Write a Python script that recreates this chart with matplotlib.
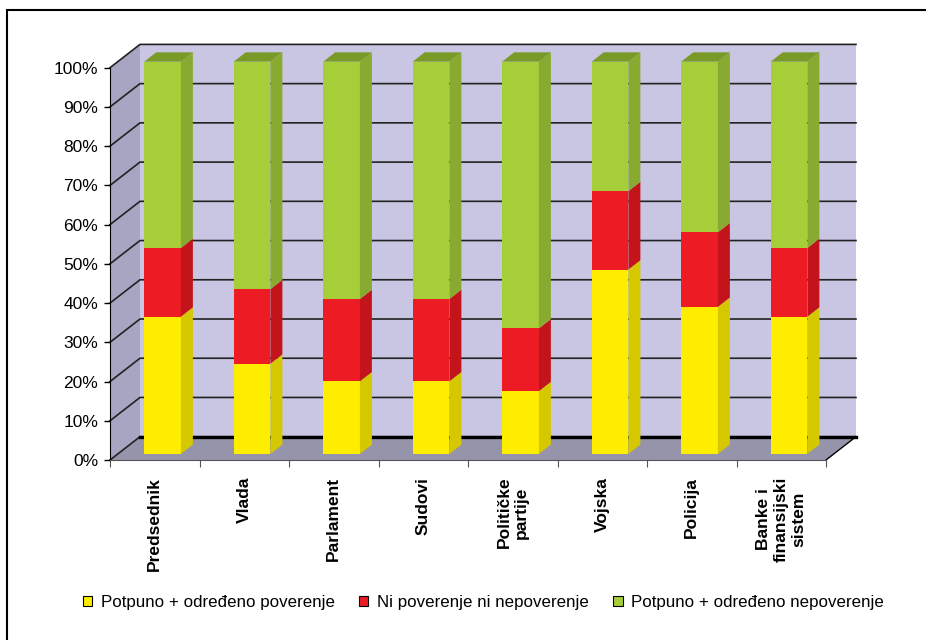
import numpy as np
import matplotlib
matplotlib.use('Agg')
import matplotlib.pyplot as plt
from matplotlib.patches import Polygon, Rectangle, Patch

plt.rcParams['font.family'] = ['Liberation Sans', 'DejaVu Sans']

categories = ['Predsednik', 'Vlada', 'Parlament', 'Sudovi', 'Političke\npartije',
              'Vojska', 'Policija', 'Banke i\nfinansijski\nsistem']
poverenje = [35, 23, 18.5, 18.5, 16, 47, 37.5, 35]
neutralno = [17.5, 19, 21, 21, 16, 20, 19, 17.5]
nepoverenje = [47.5, 58, 60.5, 60.5, 68, 33, 43.5, 47.5]
series_names = ['Potpuno + određeno poverenje', 'Ni poverenje ni nepoverenje',
                'Potpuno + određeno nepoverenje']

front_cols = ['#FFED00', '#ED1C24', '#A6CE39']
side_cols = ['#D6C800', '#C3141C', '#88AA30']
top_col = '#7A9A28'

# oblique depth of the chart box (x in category units, y in percent)
DX, DY = 0.335, 5.94
Z0, Z1 = 0.26, 0.66   # front and back face of the bars, as depth fraction
W = 0.41

n = len(categories)

fig = plt.figure(figsize=(9.26, 6.4), dpi=100)
ax = fig.add_axes([110 / 926, 180 / 640, 716 / 926, 392.3 / 640])
ax.set_xlim(0, n)
ax.set_ylim(0, 100)
ax.patch.set_visible(False)

# back wall, side wall, floor
ax.add_patch(Polygon([(DX, DY), (n + DX, DY), (n + DX, 100 + DY), (DX, 100 + DY)],
                     fc='#C8C6E2', ec='none', zorder=0, clip_on=False))
ax.add_patch(Polygon([(0, 0), (DX, DY), (DX, 100 + DY), (0, 100)],
                     fc='#A7A5C1', ec='none', zorder=0, clip_on=False))
ax.add_patch(Polygon([(0, 0), (n, 0), (n + DX, DY), (DX, DY)],
                     fc='#9694AA', ec='none', zorder=0.5, clip_on=False))

for v in range(0, 101, 10):
    ax.plot([0, DX, n + DX], [v, v + DY, v + DY], color='#222222', lw=1.2,
            zorder=1, clip_on=False)
ax.plot([DX, n + DX], [DY, DY], color='black', lw=2.4, zorder=1.2, clip_on=False)
ax.plot([n, n + DX], [0, DY], color='black', lw=1, zorder=1.2, clip_on=False)

# stacked 3d-ish columns
x = np.arange(n) + 0.5 + Z0 * DX
d = Z1 - Z0
bottom = np.zeros(n)
for vals, fc, sc, name in zip([poverenje, neutralno, nepoverenje], front_cols, side_cols, series_names):
    vals = np.array(vals, dtype=float)
    ax.bar(x, vals, width=W, bottom=bottom + Z0 * DY, color=fc, zorder=3,
           clip_on=False, label=name)
    for xi, b, h in zip(x, bottom, vals):
        xr = xi + W / 2
        y0 = b + Z0 * DY
        y1 = y0 + h
        ax.add_patch(Polygon([(xr, y0), (xr + d * DX, y0 + d * DY),
                              (xr + d * DX, y1 + d * DY), (xr, y1)],
                             fc=sc, ec='none', zorder=3, clip_on=False))
    bottom += vals

for xi, t in zip(x, bottom):
    y1 = t + Z0 * DY
    xl = xi - W / 2
    ax.add_patch(Polygon([(xl, y1), (xl + W, y1), (xl + W + d * DX, y1 + d * DY),
                          (xl + d * DX, y1 + d * DY)],
                         fc=top_col, ec='none', zorder=3, clip_on=False))

# axes
ax.set_yticks(range(0, 101, 10))
ax.set_yticklabels([f'{v}%' for v in range(0, 101, 10)])
ax.tick_params(axis='y', length=4.5, width=1, pad=4, labelsize=12.5)
ax.set_xticks(range(n + 1))
ax.set_xticklabels([])
ax.set_xticks(np.arange(n) + 0.5, minor=True)
ax.set_xticklabels(categories, minor=True, rotation=90, fontweight='bold',
                   fontsize=12.5, multialignment='center')
ax.tick_params(axis='x', which='major', length=5, color='#555555')
ax.tick_params(axis='x', which='minor', length=0, pad=12)
ax.spines['top'].set_visible(False)
ax.spines['right'].set_visible(False)
ax.spines['bottom'].set_color('#555555')
ax.spines['left'].set_color('black')

handles = [Patch(fc=c, ec='black', lw=0.8) for c in front_cols]
fig.legend(handles, series_names, loc='center', bbox_to_anchor=(0.522, 0.058),
           ncol=3, frameon=False, fontsize=12.2, handlelength=0.55,
           handleheight=0.55, handletextpad=0.5, columnspacing=1.45)

# outer frame
fig.add_artist(Rectangle((7 / 926, -0.1), 1.2, 1 - 10 / 640 + 0.1,
                         transform=fig.transFigure, fill=False, ec='black', lw=1.5))

fig.savefig('out.png', dpi=100)
